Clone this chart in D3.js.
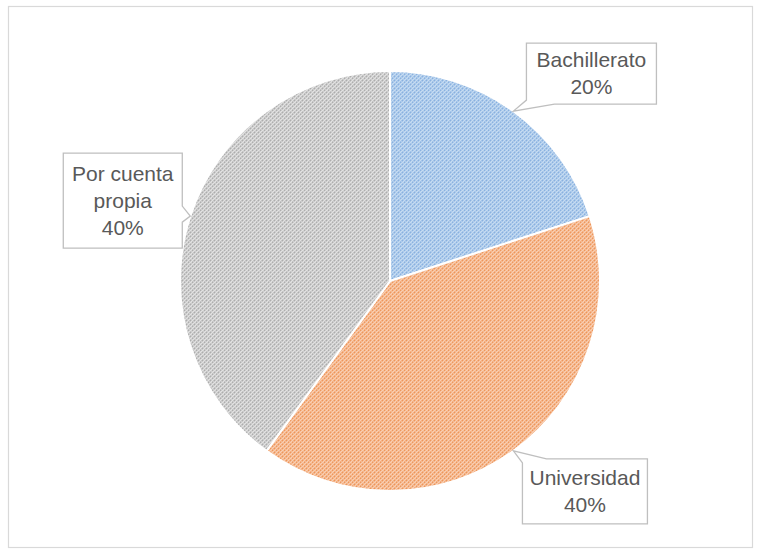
<!DOCTYPE html>
<html>
<head>
<meta charset="utf-8">
<script src="https://cdn.jsdelivr.net/npm/d3@7/dist/d3.min.js"></script>
<style>
  html, body { margin: 0; padding: 0; background: #fff; }
  svg { display: block; }
</style>
</head>
<body>
<svg id="chart" width="761" height="552"></svg>
<script>
// ---- data ----
const categories = ["Bachillerato", "Universidad", "Por cuenta propia"];
const values = [20, 40, 40];
const labelLines = [["Bachillerato", "20%"], ["Universidad", "40%"], ["Por cuenta", "propia", "40%"]];

// ---- styling / layout ----
const W = 761, H = 552;
const cx = 390, cy = 281, R = 210;
const patternStyles = [
  { bg: "#c6dcf2", fg: "#89b1e0" },
  { bg: "#f9cfb3", fg: "#ee965a" },
  { bg: "#e2e2e2", fg: "#adadad" }
];
// label box geometry relative to pointer tip
const boxLayout = [
  { dx: 13, dy: -68, w: 130, h: 61, side: "bottom" },
  { dx: 9, dy: 8, w: 125, h: 65, side: "top" },
  { dx: -127, dy: -63, w: 119, h: 95, side: "right" }
];

const svg = d3.select("#chart");
svg.append("rect").attr("x", 8.5).attr("y", 6.5).attr("width", 744).attr("height", 541)
  .attr("fill", "#fff").attr("stroke", "#d9d9d9").attr("stroke-width", 1.2);

const defs = svg.append("defs");
patternStyles.forEach((p, i) => {
  const pat = defs.append("pattern").attr("id", "pat" + i)
    .attr("patternUnits", "userSpaceOnUse").attr("width", 4).attr("height", 4);
  pat.append("rect").attr("width", 4).attr("height", 4).attr("fill", p.bg);
  pat.append("path").attr("d", "M-1,1 l2,-2 M0,4 l4,-4 M3,5 l2,-2")
    .attr("stroke", p.fg).attr("stroke-width", 1.4).attr("stroke-dasharray", "2,0.8");
});

const pie = d3.pie().sort(null).value(d => d);
const arcs = pie(values);
const arcGen = d3.arc().innerRadius(0).outerRadius(R);
const edgeArc = d3.arc().innerRadius(R).outerRadius(R);

const g = svg.append("g").attr("transform", `translate(${cx},${cy})`);
g.selectAll("path.slice").data(arcs).join("path")
  .attr("class", "slice")
  .attr("d", arcGen)
  .attr("fill", (d, i) => `url(#pat${i})`)
  .attr("stroke", "#fff").attr("stroke-width", 2).attr("stroke-linejoin", "round");

// ---- callout labels ----
const lineH = 27;
arcs.forEach((a, i) => {
  const c = edgeArc.centroid(a);
  const tx = cx + c[0], ty = cy + c[1];
  const L = boxLayout[i];
  const x0 = tx + L.dx, y0 = ty + L.dy, x1 = x0 + L.w, y1 = y0 + L.h;
  let d;
  if (L.side === "bottom") {
    d = `M${x0},${y0} H${x1} V${y1} H${x0 + 28} L${tx},${ty} L${x0},${y1 - 4} Z`;
  } else if (L.side === "top") {
    d = `M${x0},${y0 + 4} L${tx},${ty} L${x0 + 24},${y0} H${x1} V${y1} H${x0} Z`;
  } else {
    d = `M${x0},${y0} H${x1} V${ty - 10} L${tx},${ty} L${x1},${ty + 6} V${y1} H${x0} Z`;
  }
  svg.append("path").attr("d", d)
    .attr("fill", "#fff").attr("stroke", "#bfbfbf").attr("stroke-width", 1.3)
    .attr("stroke-linejoin", "miter");
  const lines = labelLines[i];
  const midX = (x0 + x1) / 2;
  const totalH = lines.length * lineH;
  const startY = (y0 + y1) / 2 - totalH / 2 + lineH / 2 + 7;
  const t = svg.append("text").attr("text-anchor", "middle")
    .attr("font-family", "'Liberation Sans', Arial, sans-serif")
    .attr("font-size", 21).attr("fill", "#595959");
  lines.forEach((s, k) => {
    t.append("tspan").attr("x", midX).attr("y", startY + k * lineH).text(s);
  });
});
</script>
</body>
</html>
